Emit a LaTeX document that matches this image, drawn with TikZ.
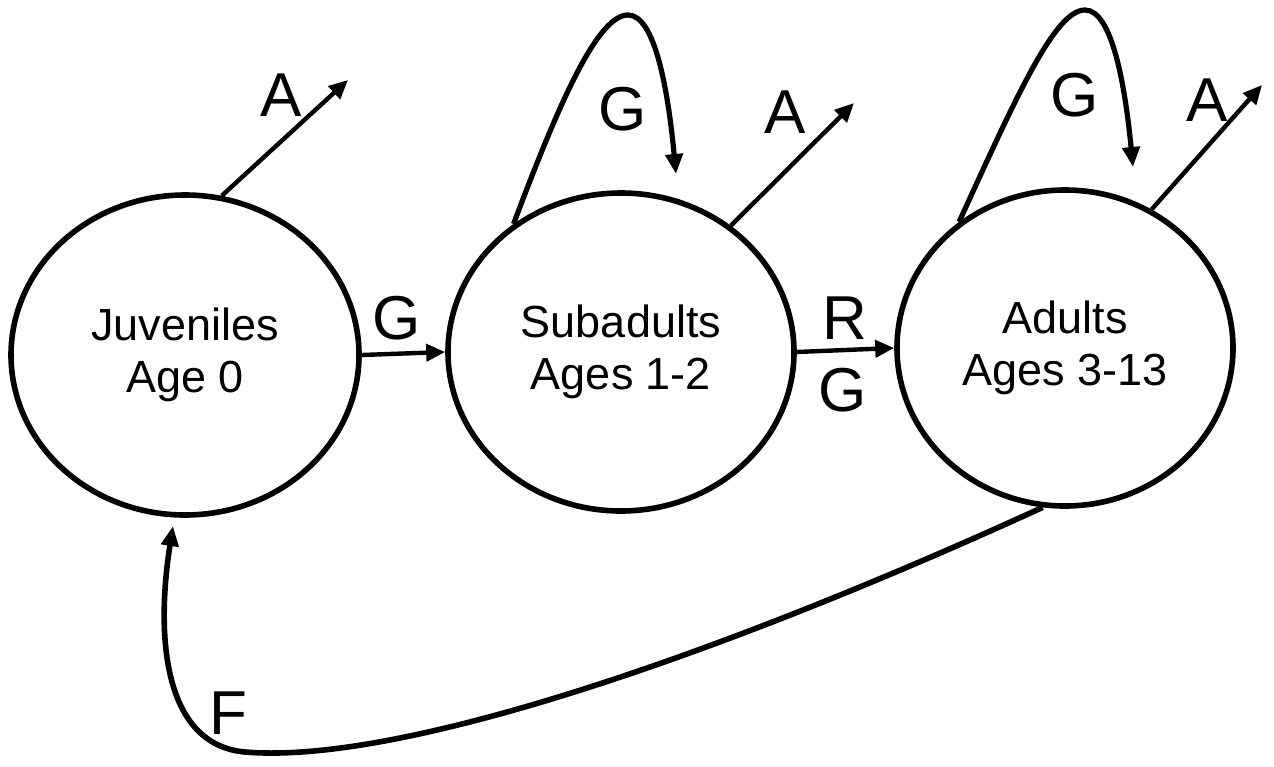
\documentclass[tikz,border=0pt]{standalone}
\usepackage{fontspec}
\setmainfont{Liberation Sans}
\usetikzlibrary{arrows.meta,shapes.geometric,calc}
\begin{document}
\begin{tikzpicture}[x=0.5pt,y=-0.5pt,
  stage/.style={ellipse,draw,line width=2.8pt,inner sep=0pt,align=center,
    font=\fontsize{22.5}{26}\selectfont},
  flow/.style={line width=2.2pt,-{Triangle[length=9.5pt,width=8.5pt]}},
  loopflow/.style={line width=2.6pt,-{Triangle[length=10pt,width=8.5pt]}},
  lab/.style={font=\fontsize{31}{31}\selectfont,inner sep=0pt}]
\useasboundingbox (0,0) rectangle (1274,766);
\fill[white] (0,0) rectangle (1274,766);

\node[stage,minimum width=174pt,minimum height=160pt] (juv) at (185,355) {Juveniles\\Age 0};
\node[stage,minimum width=173pt,minimum height=159pt] (sub) at (621,352) {Subadults\\Ages 1-2};
\node[stage,minimum width=168pt,minimum height=158pt] (adu) at (1065,348) {Adults\\Ages 3-13};

% free ends
\coordinate (juvA) at (348,80);
\coordinate (subA) at (854,103);
\coordinate (aduA) at (1262,85);
\coordinate (subG) at (676,174);
\coordinate (aduG) at (1133,167);
\coordinate (juvF) at (173,526);

% transitions
\draw[flow] (juv.east) -- (sub.west);
\draw[flow] (sub.east) -- (adu.west);
\node[lab] (g1) at (397,318) {G};
\node[lab] (r2) at (845,318) {R};
\node[lab] (g2) at (843,390) {G};

% mortality arrows
\draw[flow] (juv.77) -- (juvA);
\draw[flow] (sub.49) -- (subA);
\draw[flow] (adu.58) -- (aduA);
\node[lab] (a1) at (281,95) {A};
\node[lab] (a2) at (785,112) {A};
\node[lab] (a3) at (1207,100) {A};

% self loops
\draw[loopflow] (sub.130) .. controls (560,100) and (598,15) .. (628,15)
  .. controls (655,15) and (668,90) .. (subG);
\draw[loopflow] (adu.130) .. controls (1017,95) and (1055,10) .. (1085,10)
  .. controls (1112,10) and (1125,85) .. (aduG);
\node[lab] (gs) at (623,109) {G};
\node[lab] (ga) at (1075,95) {G};

% fecundity
\draw[line width=2.8pt,-{Triangle[length=10pt,width=8.5pt]}] (adu.262)
  .. controls (720,655) and (400,765) .. (245,752)
  .. controls (165,745) and (155,640) .. (juvF);
\node[lab] (f) at (228,713) {F};
\end{tikzpicture}
\end{document}
